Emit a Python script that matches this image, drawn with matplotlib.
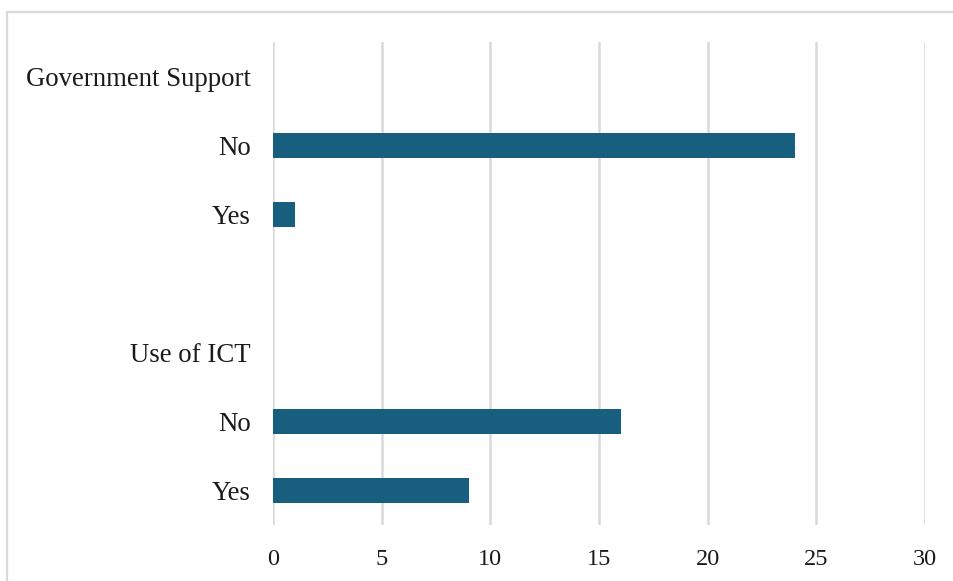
import matplotlib.pyplot as plt
from matplotlib.patches import Rectangle

# survey answers, grouped by question
groups = ["Government Support", "Use of ICT"]
answers = ["No", "Yes"]
gov_counts = [24, 1]
ict_counts = [16, 9]

# build the row layout: header row, answer rows, blank spacer between groups
labels = []
values = []
for i, (name, counts) in enumerate(zip(groups, [gov_counts, ict_counts])):
    if i > 0:
        labels.append("")
        values.append(None)
    labels.append(name)
    values.append(None)
    for ans, c in zip(answers, counts):
        labels.append(ans)
        values.append(c)

plt.rcParams['font.family'] = ['Liberation Serif', 'DejaVu Serif']

fig = plt.figure(figsize=(9.54, 5.81), dpi=100)
ax = fig.add_axes([0.2862, 0.0964, 0.6834, 0.8313])

pos = list(range(len(labels)))
bar_pos = [p for p, v in zip(pos, values) if v is not None]
bar_val = [v for v in values if v is not None]
ax.barh(bar_pos, bar_val, height=0.36, color='#185f7f', zorder=3)

ax.set_ylim(len(labels) - 0.5, -0.5)
ax.set_yticks(pos)
ax.set_yticklabels(labels, fontsize=19.3, color='#1a1a1a')
ax.set_xlim(0, 30)
ax.set_xticks(range(0, 31, 5))
ax.tick_params(axis='x', labelsize=17.5, length=0, pad=17, labelcolor='#1a1a1a')
ax.tick_params(axis='y', length=0, pad=16)
ax.grid(axis='x', color='#d9d9d9', linewidth=1.8, zorder=0)
for s in ax.spines.values():
    s.set_visible(False)

# light frame around the chart area
fig.patches.append(Rectangle((0.0073, -0.05), 1.1, 0.9793 + 0.05,
                             transform=fig.transFigure, fill=False,
                             edgecolor='#d9d9d9', linewidth=1.6))

fig.savefig('out.png', dpi=100)
